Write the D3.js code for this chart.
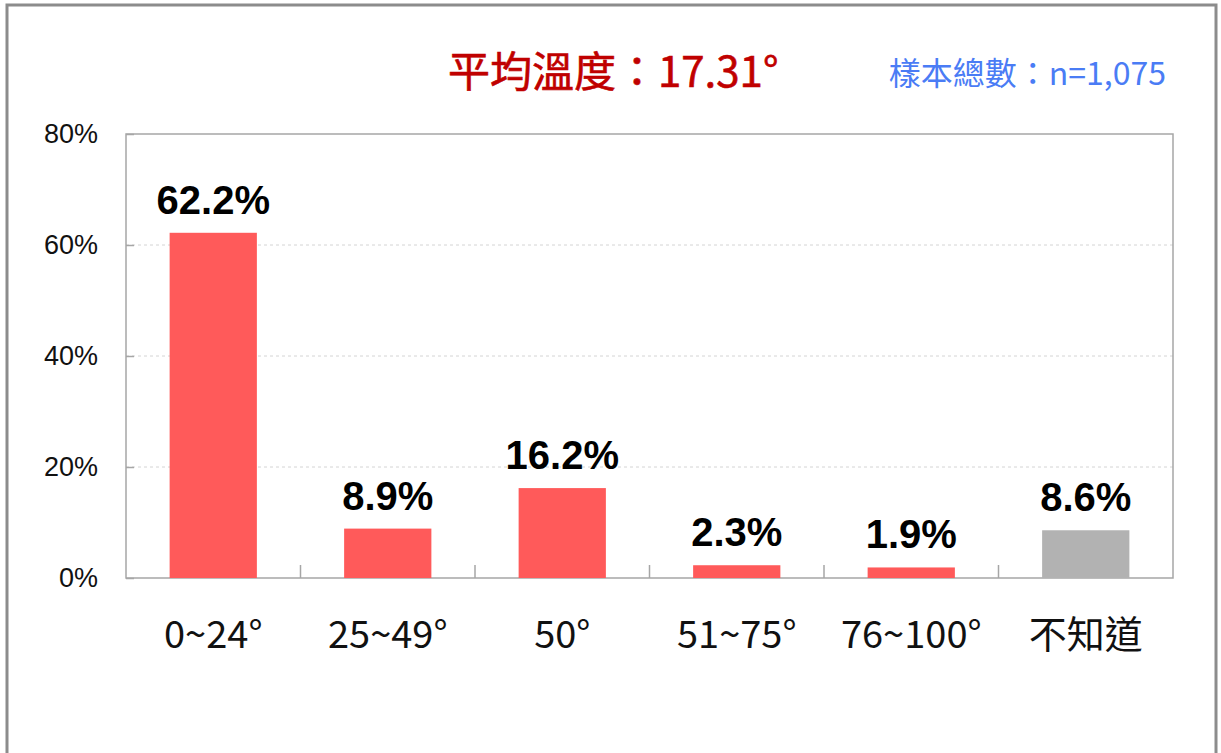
<!DOCTYPE html>
<html>
<head>
  <meta charset="utf-8">
  <script src="https://d3js.org/d3.v7.min.js"></script>
  <style>
    body { margin: 0; background: #fff; }
    svg { display: block; }
  </style>
</head>
<body>
  <div id="chart"></div>
  <script>
    // data
    const categories = ["0~24°", "25~49°", "50°", "51~75°", "76~100°", "不知道"];
    const values = [62.2, 8.9, 16.2, 2.3, 1.9, 8.6];
    const barColors = ["#ff5a5a", "#ff5a5a", "#ff5a5a", "#ff5a5a", "#ff5a5a", "#b2b2b2"];
    const yTicks = [0, 20, 40, 60, 80];
    const titleText = "平均溫度：17.31°";
    const sampleText = "樣本總數：n=1,075";

    const width = 1221, height = 753;
    const plot = { left: 126, top: 134, right: 1173, bottom: 578 };

    const svg = d3.select("#chart").append("svg")
      .attr("width", width)
      .attr("height", height);

    // outer frame
    svg.append("rect")
      .attr("x", 7).attr("y", 5)
      .attr("width", 1209).attr("height", 780)
      .attr("fill", "#fff")
      .attr("stroke", "#8c8c8c")
      .attr("stroke-width", 3);

    const x = d3.scaleBand()
      .domain(categories)
      .range([plot.left, plot.right])
      .paddingInner(0)
      .paddingOuter(0);

    const y = d3.scaleLinear()
      .domain([0, 80])
      .range([plot.bottom, plot.top]);

    // gridlines
    svg.append("g")
      .selectAll("line")
      .data(yTicks.filter(d => d > 0 && d < 80))
      .join("line")
      .attr("x1", plot.left).attr("x2", plot.right)
      .attr("y1", d => y(d)).attr("y2", d => y(d))
      .attr("stroke", "#d4d4d4")
      .attr("stroke-dasharray", "3,3");

    // plot frame
    svg.append("rect")
      .attr("x", plot.left).attr("y", plot.top)
      .attr("width", plot.right - plot.left)
      .attr("height", plot.bottom - plot.top)
      .attr("fill", "none")
      .attr("stroke", "#a6a6a6")
      .attr("stroke-width", 1.5);

    // y axis
    const yAxis = svg.append("g")
      .attr("transform", `translate(${plot.left},0)`)
      .call(d3.axisLeft(y).tickValues(yTicks).tickSize(-8).tickPadding(28).tickFormat(d => d + "%"));
    yAxis.select(".domain").remove();
    yAxis.selectAll(".tick line").attr("stroke", "#a6a6a6").attr("stroke-width", 1.5);
    yAxis.selectAll(".tick text")
      .attr("font-family", "'Liberation Sans', Arial, sans-serif")
      .attr("font-size", 27)
      .attr("fill", "#111");

    // category separator ticks
    svg.append("g")
      .selectAll("line")
      .data(categories.slice(1))
      .join("line")
      .attr("x1", d => x(d)).attr("x2", d => x(d))
      .attr("y1", plot.bottom).attr("y2", plot.bottom - 13)
      .attr("stroke", "#a6a6a6")
      .attr("stroke-width", 1.5);

    // bars
    const barW = x.bandwidth() * 0.5;
    svg.append("g")
      .selectAll("rect")
      .data(values)
      .join("rect")
      .attr("x", (d, i) => x(categories[i]) + (x.bandwidth() - barW) / 2)
      .attr("y", d => y(d))
      .attr("width", barW)
      .attr("height", d => plot.bottom - y(d))
      .attr("fill", (d, i) => barColors[i]);

    // value labels
    svg.append("g")
      .selectAll("text")
      .data(values)
      .join("text")
      .attr("x", (d, i) => x(categories[i]) + x.bandwidth() / 2)
      .attr("y", d => y(d) - 19)
      .attr("text-anchor", "middle")
      .attr("font-family", "'Liberation Sans', Arial, sans-serif")
      .attr("font-weight", "bold")
      .attr("font-size", 40)
      .attr("fill", "#000")
      .text(d => d.toFixed(1) + "%");

    // category labels
    svg.append("g")
      .selectAll("text")
      .data(categories)
      .join("text")
      .attr("x", d => x(d) + x.bandwidth() / 2)
      .attr("y", 648)
      .attr("text-anchor", "middle")
      .attr("font-family", "'Noto Sans CJK TC', sans-serif")
      .attr("font-size", 38)
      .attr("fill", "#111")
      .text(d => d);

    // titles
    svg.append("text")
      .attr("x", 448).attr("y", 87)
      .attr("font-family", "'Noto Sans CJK TC', sans-serif")
      .attr("font-size", 42)
      .attr("fill", "#c00000")
      .attr("stroke", "#c00000")
      .attr("stroke-width", 0.6)
      .text(titleText);

    svg.append("text")
      .attr("x", 1166).attr("y", 85)
      .attr("text-anchor", "end")
      .attr("font-family", "'Noto Sans CJK TC', sans-serif")
      .attr("font-size", 32)
      .attr("fill", "#4a7cf5")
      .text(sampleText);
  </script>
</body>
</html>
